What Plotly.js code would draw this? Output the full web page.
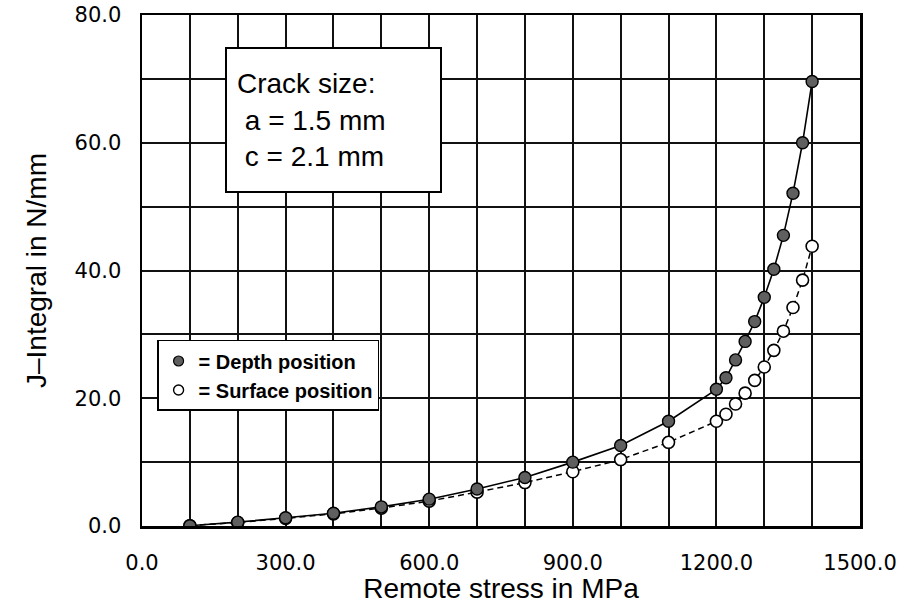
<!DOCTYPE html>
<html>
<head>
<meta charset="utf-8">
<script src="https://cdn.plot.ly/plotly-3.0.1.min.js"></script>
<style>html,body{margin:0;padding:0;background:#fff;}#chart{width:919px;height:604px;}</style>
</head>
<body>
<div id="chart"></div>
<script>
// Remote stress (MPa)
const stressDepth = [100, 200, 300, 400, 500, 600, 700, 800, 900, 1000, 1100, 1200, 1220, 1240, 1260, 1280, 1300, 1320, 1340, 1360, 1380, 1400];
// J-Integral at depth position (N/mm)
const jDepth = [0.05, 0.6, 1.3, 2.0, 3.0, 4.2, 5.8, 7.6, 10.0, 12.6, 16.4, 21.4, 23.2, 26.0, 28.9, 32.0, 35.8, 40.2, 45.5, 52.1, 60.0, 69.6];
const stressSurface = [100, 200, 300, 400, 500, 600, 700, 800, 900, 1000, 1100, 1200, 1220, 1240, 1260, 1280, 1300, 1320, 1340, 1360, 1380, 1400];
// J-Integral at surface position (N/mm)
const jSurface = [0.05, 0.55, 1.2, 1.9, 2.8, 3.9, 5.3, 6.8, 8.5, 10.4, 13.1, 16.4, 17.5, 19.1, 20.8, 22.8, 24.9, 27.5, 30.5, 34.2, 38.5, 43.8];

const xTicks = [0, 300, 600, 900, 1200, 1500];
const yTicks = [0, 20, 40, 60, 80];
const legendDepth = "= Depth position";
const legendSurface = "= Surface position";
const crackLines = ["Crack size:", "\u00a0a = 1.5 mm", "\u00a0c = 2.1 mm"];

const fillGray = '#5f5f5f';
const traces = [
  {x: stressSurface, y: jSurface, mode: 'lines+markers', showlegend: false,
   line: {color: '#000', width: 1.5, dash: '6px,4px'},
   marker: {symbol: 'circle', size: 12, color: '#fff', line: {color: '#000', width: 1.6}}},
  {x: stressDepth, y: jDepth, mode: 'lines+markers', showlegend: false,
   line: {color: '#000', width: 1.6},
   marker: {symbol: 'circle', size: 12, color: fillGray, line: {color: '#000', width: 1.4}}},
  {x: [null], y: [null], mode: 'markers', name: legendDepth,
   marker: {symbol: 'circle', size: 10, color: fillGray, line: {color: '#000', width: 1.2}}},
  {x: [null], y: [null], mode: 'markers', name: legendSurface,
   marker: {symbol: 'circle', size: 10, color: '#fff', line: {color: '#000', width: 1.4}}}
];

const axisCommon = {
  showline: true, mirror: true, linecolor: '#000', linewidth: 2.5,
  showgrid: true, gridcolor: '#111', gridwidth: 2,
  zeroline: false, ticks: '', tickformat: '.1f',
  tickfont: {family: 'DejaVu Sans', size: 21, color: '#000'},
  automargin: false
};

const layout = {
  width: 919, height: 604,
  margin: {l: 142, r: 59, t: 15, b: 78},
  paper_bgcolor: '#fff', plot_bgcolor: '#fff',
  font: {family: 'Liberation Sans', color: '#000'},
  xaxis: Object.assign({}, axisCommon, {
    range: [0, 1500], tickvals: xTicks, ticklabelstandoff: 16,
    minor: {dtick: 100, showgrid: true, gridcolor: '#111', gridwidth: 2, ticks: ''},
    title: {text: 'Remote stress in MPa', font: {family: 'Liberation Sans', size: 28, color: '#000'}, standoff: 2}
  }),
  yaxis: Object.assign({}, axisCommon, {
    range: [0, 80], tickvals: yTicks, ticklabelstandoff: 14,
    minor: {dtick: 10, showgrid: true, gridcolor: '#111', gridwidth: 2, ticks: ''},
    title: {text: 'J\u2013Integral in N/mm', font: {family: 'Liberation Sans', size: 28, color: '#000'}, standoff: 20}
  }),
  showlegend: true,
  legend: {
    x: 0.021, y: 0.364, xanchor: 'left', yanchor: 'top',
    bgcolor: '#fff', bordercolor: '#000', borderwidth: 1.5,
    font: {family: 'Liberation Sans', size: 20, color: '#000', weight: 'bold'},
    itemwidth: 30, tracegroupgap: 0
  },
  annotations: [{
    xref: 'paper', yref: 'paper', x: 0.1156, y: 0.937, xanchor: 'left', yanchor: 'top',
    text: crackLines.join('<br>'), align: 'left', valign: 'middle', showarrow: false,
    font: {family: 'Liberation Sans', size: 28, color: '#000'},
    bgcolor: '#fff', bordercolor: '#000', borderwidth: 2, borderpad: 10,
    width: 193, height: 122
  }]
};

Plotly.newPlot('chart', traces, layout, {displayModeBar: false, staticPlot: true});
</script>
</body>
</html>
